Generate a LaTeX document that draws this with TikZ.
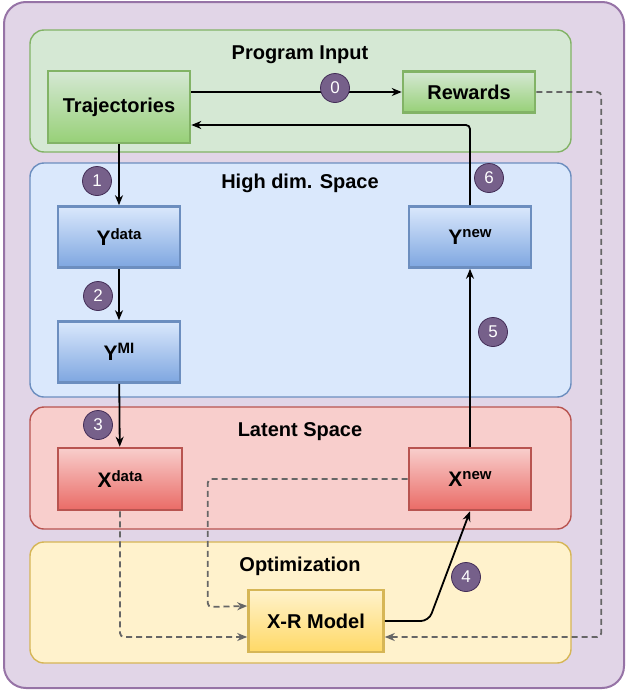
\documentclass[tikz,border=0pt]{standalone}
\usepackage{fontspec}
\setmainfont{Liberation Sans}
\usetikzlibrary{arrows.meta,positioning}

\definecolor{outerfill}{HTML}{E1D5E7}
\definecolor{outerline}{HTML}{9673A6}
\definecolor{gfill}{HTML}{D5E8D4}
\definecolor{gdark}{HTML}{97D077}
\definecolor{gline}{HTML}{82B366}
\definecolor{bfill}{HTML}{DAE8FC}
\definecolor{bdark}{HTML}{7EA6E0}
\definecolor{bline}{HTML}{6C8EBF}
\definecolor{rfill}{HTML}{F8CECC}
\definecolor{rdark}{HTML}{EA6B66}
\definecolor{rline}{HTML}{B85450}
\definecolor{yfill}{HTML}{FFF2CC}
\definecolor{ydark}{HTML}{FFD966}
\definecolor{yline}{HTML}{D6B656}
\definecolor{badgefill}{HTML}{76608A}
\definecolor{badgeline}{HTML}{432D57}
\definecolor{dashgray}{HTML}{666666}

\newcommand{\varlbl}[2]{{\fontsize{21}{24}\selectfont #1}\raisebox{6.5pt}{\fontsize{15}{17}\selectfont #2}}

\tikzset{
  group/.style 2 args={draw=#1,fill=#2,rounded corners=14pt,line width=1.4pt},
  grouptitle/.style={font=\bfseries\fontsize{20}{22}\selectfont},
  block/.style n args={3}{draw=#1,top color=#2,bottom color=#3,line width=2.6pt,
    inner sep=0pt,font=\bfseries\fontsize{20}{22}\selectfont},
  badge/.style={circle,draw=badgeline,fill=badgefill,text=white,minimum size=29pt,
    inner sep=0pt,line width=0.8pt,font=\fontsize{17}{19}\selectfont},
  link/.style={-{Stealth[length=10pt,width=8pt]},line width=1.8pt,black},
  datalink/.style={-{Stealth[length=10pt,width=8pt]},line width=1.8pt,dashgray,
    dash pattern=on 6pt off 4pt,rounded corners=4pt}
}

\begin{document}
\begin{tikzpicture}[x=1pt,y=-1pt]
\useasboundingbox (0,0) rectangle (626,691);

% Outer frame
\draw[outerline,fill=outerfill,line width=2pt,rounded corners=22pt] (4,2) rectangle (624,688);

% Containers
\draw[group={gline}{gfill}] (30,30) rectangle (571,152);
\draw[group={bline}{bfill}] (30,163) rectangle (571,397);
\draw[group={rline}{rfill}] (30,407) rectangle (571,529);
\draw[group={yline}{yfill}] (30,542) rectangle (571,663);

\node[grouptitle] (inputtitle) at (300,55) {Program Input};
\node[grouptitle] (hightitle) at (300,183) {High dim. Space};
\node[grouptitle] (latenttitle) at (300,432) {Latent Space};
\node[grouptitle] (opttitle) at (300,566) {Optimization};

% Boxes
\node[block={gline}{gfill}{gdark},minimum width=142pt,minimum height=72pt] (traj) at (119,107) {Trajectories};
\node[block={gline}{gfill}{gdark},minimum width=132pt,minimum height=41pt] (rewards) at (469,92) {Rewards};
\node[block={bline}{bfill}{bdark},minimum width=122pt,minimum height=61pt] (ydata) at (119,237) {\varlbl{Y}{data}};
\node[block={bline}{bfill}{bdark},minimum width=122pt,minimum height=61pt] (ymi) at (119,352) {\varlbl{Y}{MI}};
\node[block={bline}{bfill}{bdark},minimum width=122pt,minimum height=61pt] (ynew) at (470,237) {\varlbl{Y}{new}};
\node[block={rline}{rfill}{rdark},minimum width=124pt,minimum height=62pt] (xdata) at (120,479) {\varlbl{X}{data}};
\node[block={rline}{rfill}{rdark},minimum width=122pt,minimum height=62pt] (xnew) at (470,479) {\varlbl{X}{new}};
\node[block={yline}{yfill}{ydark},minimum width=135pt,minimum height=62pt] (xr) at (316,621) {X-R Model};

% Connectors
\draw[link] (traj.east |- rewards.west) -- (rewards.west);
\draw[link] (traj) -- (ydata);
\draw[link] (ydata) -- (ymi);
\draw[link] (ymi) -- (xdata);
\draw[link] (xnew) -- (ynew);
\draw[link,rounded corners=4pt] (ynew.north) |- ([yshift=-18pt]traj.east);
\draw[link,rounded corners=8pt] (xr.east) -- ++(44,0) -- (xnew.south);

\draw[datalink] (xnew.west) -| ++(-200,128) -- ([yshift=15pt]xr.west);
\draw[datalink] (xdata.south) |- ([yshift=-16pt]xr.west);
\draw[datalink] (rewards.east) -| ++(65,545) -- ([yshift=-16pt]xr.east);

% Step markers
\node[badge] (s0) at (335,88) {0};
\node[badge] (s1) at (97,181) {1};
\node[badge] (s2) at (98,296) {2};
\node[badge] (s3) at (98,425) {3};
\node[badge] (s4) at (466,577) {4};
\node[badge] (s5) at (493,332) {5};
\node[badge] (s6) at (489,178) {6};
\end{tikzpicture}
\end{document}
